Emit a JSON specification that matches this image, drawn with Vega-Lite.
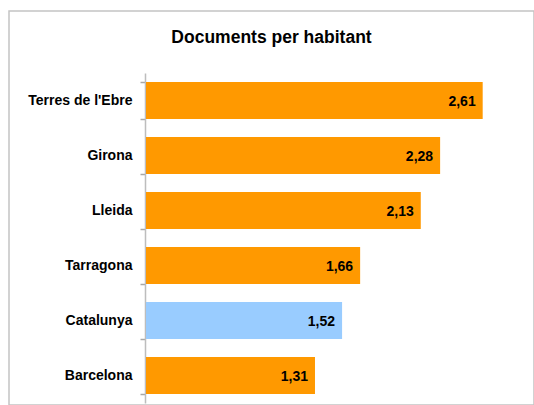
{
  "$schema": "https://vega.github.io/schema/vega-lite/v6.json",
  "autosize": {"type": "none"},
  "width": 525,
  "height": 394,
  "padding": {"left": 9, "top": 11, "right": 0, "bottom": 0},
  "background": "white",
  "config": {
    "font": "Liberation Sans",
    "view": {"stroke": "#c4c4c4", "strokeWidth": 1.5},
    "locale": {"number": {"decimal": ",", "thousands": ".", "grouping": [3], "currency": ["", " €"]}}
  },
  "title": {
    "text": "Documents per habitant",
    "font": "Liberation Sans",
    "fontSize": 17.5,
    "fontWeight": "bold",
    "color": "#000000",
    "anchor": "middle",
    "frame": "group",
    "baseline": "top",
    "offset": -42
  },
  "data": {
    "values": [
      {"region": "Terres de l'Ebre", "value": 2.61, "type": "prov"},
      {"region": "Girona", "value": 2.28, "type": "prov"},
      {"region": "Lleida", "value": 2.13, "type": "prov"},
      {"region": "Tarragona", "value": 1.66, "type": "prov"},
      {"region": "Catalunya", "value": 1.52, "type": "cat"},
      {"region": "Barcelona", "value": 1.31, "type": "prov"}
    ]
  },
  "encoding": {
    "y": {
      "field": "region",
      "type": "nominal",
      "sort": null,
      "title": null,
      "scale": {"range": [62, 392], "paddingInner": 0.33, "paddingOuter": 0.165},
      "axis": {
        "offset": -136,
        "domainColor": "#bdbdbd",
        "domainWidth": 1.5,
        "ticks": true,
        "tickColor": "#a8a8a8",
        "tickWidth": 1.5,
        "tickSize": 5,
        "tickOpacity": 1,
        "tickBand": "extent",
        "labelFont": "Liberation Sans",
        "labelFontSize": 14,
        "labelFontWeight": "bold",
        "labelColor": "#000000",
        "labelPadding": 8
      }
    },
    "x": {
      "field": "value",
      "type": "quantitative",
      "scale": {"domain": [0, 3], "range": [137, 524]},
      "axis": null
    }
  },
  "layer": [
    {
      "mark": {"type": "bar"},
      "encoding": {
        "color": {
          "field": "type",
          "type": "nominal",
          "scale": {"domain": ["prov", "cat"], "range": ["#FF9900", "#99CCFF"]},
          "legend": null
        }
      }
    },
    {
      "mark": {"type": "text", "align": "right", "baseline": "middle", "dx": -7, "dy": 1, "font": "Liberation Sans", "fontSize": 14, "fontWeight": "bold", "color": "#000000"},
      "encoding": {
        "text": {"field": "value", "type": "quantitative", "format": ".2f"}
      }
    }
  ]
}
